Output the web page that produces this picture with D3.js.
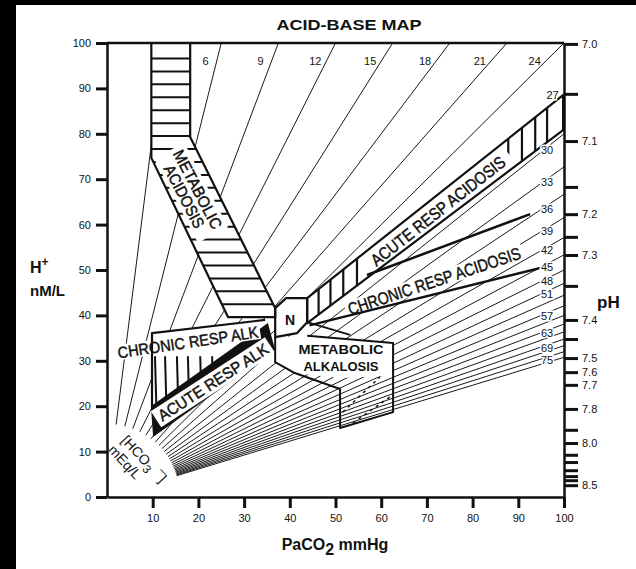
<!DOCTYPE html>
<html>
<head>
<meta charset="utf-8">
<script src="https://cdn.jsdelivr.net/npm/d3@7"></script>
<style>
body { margin:0; background:#000; }
text { font-family: Arial, "Liberation Sans", sans-serif; fill:#111; }
.band-label { font-family: Arial, "Liberation Sans", sans-serif; stroke:#111; stroke-width:0.45px; }
</style>
</head>
<body>
<svg id="chart" width="636" height="569"></svg>
<script>
// axis ticks
var xTicks = [10, 20, 30, 40, 50, 60, 70, 80, 90, 100];
var yTicks = [0, 10, 20, 30, 40, 50, 60, 70, 80, 90, 100];

// pH ticks on the right, placed at the H+ value
var phTickH = [99.8, 88.8, 78.4, 68.3, 62.3, 57.3, 53.3, 46.5, 39.0, 34.8, 30.6, 27.5, 24.7, 19.4, 14.8, 11.9, 9.3, 7.7, 5.9, 4.6, 3.7, 2.6];
var phTickText = ["7.0", "", "7.1", "", "7.2", "", "7.3", "", "7.4", "", "7.5", "7.6", "7.7", "7.8", "", "8.0", "", "", "", "", "", "8.5"];

// bicarbonate isopleths (mEq/L)
var hco3Lines = [3, 6, 9, 12, 15, 18, 21, 24, 27, 30, 33, 36, 39, 42, 45, 48, 51, 54, 57, 60, 63, 66, 69, 72, 75, 78];
var topLabels = [6, 9, 12, 15, 18, 21, 24];
var rightLabels = [27, 30, 33, 36, 39, 42, 45, 48, 51, 57, 63, 69, 75];

// regions, [PaCO2, H+]
var metAcidosis = [[9.7,100],[18.2,100],[18.2,79.3],[36.8,41.6],[36.8,39.6],[26.5,39.6],[9.7,74.7]];
var nBox = [[36.8,41.6],[39.2,43.8],[43.8,43.8],[43.8,38.5],[41.6,36.1],[36.8,35.2]];
var acuteRespAcid = [[43.8,43.8],[99.8,88.5],[99.8,80.8],[43.8,38.3]];
var chronicAcidUpper = [[56.9,48.9],[92.6,62.3]];
var chronicAcidLower = [[44.3,37.8],[94.6,50.4]];
var chronicRespAlk = [[9.85,36.1],[34.6,39.0],[35.2,37.9],[9.85,20.0]];
var acuteRespAlk = [[9.6,20.0],[35.2,38.3],[36.8,32.4],[10.1,13.2]];
var metAlkTop = [[36.8,35.2],[36.8,29.7],[41.1,27.3],[51.0,26.2],[62.6,26.7],[62.6,33.9],[43.8,35.5]];
var metAlkOutline = [[43.8,35.5],[62.6,33.9],[62.6,18.7],[51.0,15.2],[51.0,23.8],[41.1,27.3],[36.8,29.7],[36.8,35.2]];
var metAlkDashes = [[[51.6,18.7],[59.7,26.4]], [[53.8,16.3],[61.9,22.0]]];
var nSpur = [[43.8,38.5],[53.2,35.7]];

// hatch positions
var acidHatchP = [46.3, 48.9, 51.7, 54.7, 87.8, 90.8, 93.7, 96.3];
var alkHatchP = [10.5, 12.7, 15.3, 17.7, 20.4, 23.0];

var svg = d3.select("#chart");

svg.append("rect")
  .attr("x", 16).attr("y", 5)
  .attr("width", 620).attr("height", 564)
  .attr("fill", "white");

var x = d3.scaleLinear().domain([0, 100]).range([107, 564]),
    y = d3.scaleLinear().domain([0, 100]).range([497, 43]);

var line = d3.line()
  .x(function(d){ return x(d[0]); })
  .y(function(d){ return y(d[1]); });

var plot = svg.append("g").attr("class", "plot");

// isopleths
var r0 = 73;
hco3Lines.forEach(function(v){
  var k = 24 / v;
  var pEnd = k > 1 ? 100 / k : 100,
      hEnd = k > 1 ? 100 : 100 * k;
  var dx = x(pEnd) - x(0), dy = y(hEnd) - y(0);
  var len = Math.sqrt(dx*dx + dy*dy);
  plot.append("line")
    .attr("class", "iso")
    .attr("x1", x(0) + dx*r0/len)
    .attr("y1", y(0) + dy*r0/len)
    .attr("x2", x(pEnd))
    .attr("y2", y(hEnd))
    .attr("stroke", "#1a1a1a")
    .attr("stroke-width", 1);
});

// isopleth labels
plot.selectAll(".top-lab")
  .data(topLabels)
  .enter()
  .append("text")
  .attr("class", "top-lab")
  .attr("x", function(d){ return x(96 * d / 24) - 11; })
  .attr("y", y(96) + 4)
  .attr("text-anchor", "middle")
  .attr("font-size", "11px")
  .text(function(d){ return d; });

function clipTo(id, pts){
  svg.append("clipPath").attr("id", id)
    .append("path").attr("d", line(pts) + "Z");
  return "url(#" + id + ")";
}

// metabolic acidosis band
plot.append("path")
  .attr("d", line(metAcidosis) + "Z")
  .attr("fill", "white");
var gHatch = plot.append("g").attr("clip-path", clipTo("clipMA", metAcidosis));
d3.range(96.6, 40, -2.85).forEach(function(h){
  gHatch.append("line")
    .attr("x1", x(5)).attr("x2", x(40))
    .attr("y1", y(h)).attr("y2", y(h))
    .attr("stroke", "#111").attr("stroke-width", 2);
});

// chronic resp alk
plot.append("path")
  .attr("d", line(chronicRespAlk) + "Z")
  .attr("fill", "white");
var gAlk = plot.append("g").attr("clip-path", clipTo("clipCRA", chronicRespAlk));
alkHatchP.forEach(function(p){
  gAlk.append("line")
    .attr("x1", x(p)).attr("x2", x(p) + 2)
    .attr("y1", y(31)).attr("y2", y(15))
    .attr("stroke", "#111").attr("stroke-width", 2);
});

// acute resp alk (black band)
plot.append("path")
  .attr("d", line(acuteRespAlk) + "Z")
  .attr("fill", "#111");

// acute resp acidosis
plot.append("path")
  .attr("d", line(acuteRespAcid) + "Z")
  .attr("fill", "white");
var gAc = plot.append("g").attr("clip-path", clipTo("clipARA", acuteRespAcid));
acidHatchP.forEach(function(p){
  gAc.append("line")
    .attr("x1", x(p)).attr("x2", x(p))
    .attr("y1", y(100)).attr("y2", y(30))
    .attr("stroke", "#111").attr("stroke-width", 2.2);
});

// N and metabolic alkalosis
plot.append("path")
  .attr("d", line(metAlkTop) + "Z")
  .attr("fill", "white");
plot.append("path")
  .attr("d", line(nBox) + "Z")
  .attr("fill", "white");

// label boxes
function bandLabel(cx, cy, angle, w, h, lines, size, lens){
  var g = plot.append("g")
    .attr("transform", "translate(" + x(cx) + "," + y(cy) + ") rotate(" + angle + ")");
  g.append("rect")
    .attr("x", -w/2).attr("y", -h/2)
    .attr("width", w).attr("height", h)
    .attr("fill", "white");
  lines.forEach(function(t, i){
    g.append("text")
      .attr("class", "band-label")
      .attr("x", 0)
      .attr("y", (i - (lines.length - 1)/2) * (size * 0.95) + size * 0.36)
      .attr("text-anchor", "middle")
      .attr("font-size", size + "px")
      .attr("textLength", lens[i])
      .attr("lengthAdjust", "spacingAndGlyphs")
      .text(t);
  });
}

// outlines
function outline(pts, closed, w){
  plot.append("path")
    .attr("d", line(pts) + (closed ? "Z" : ""))
    .attr("fill", "none")
    .attr("stroke", "#111")
    .attr("stroke-width", w)
    .attr("stroke-linejoin", "round");
}

bandLabel(18.4, 67.0, 62.5, 95, 34, ["METABOLIC", "ACIDOSIS"], 16, [87, 69]);
bandLabel(72.4, 63.0, -38.2, 182, 24, ["ACUTE RESP ACIDOSIS"], 17, [166]);
bandLabel(71.6, 47.6, -18.3, 186, 16, ["CHRONIC RESP ACIDOSIS"], 17, [181]);
bandLabel(17.7, 34.1, -8.5, 146, 15, ["CHRONIC RESP ALK"], 16, [142]);
bandLabel(23.2, 25.3, -33, 136, 19, ["ACUTE RESP ALK"], 16, [128]);

outline(metAcidosis, true, 2.2);
outline(acuteRespAcid, true, 2.2);
outline(chronicAcidUpper, false, 2.5);
outline(chronicAcidLower, false, 2.5);
outline([chronicRespAlk[3], chronicRespAlk[0], chronicRespAlk[1]], false, 2.2);
outline(nBox, true, 2.2);
outline(metAlkOutline, false, 2);
outline(nSpur, false, 1.8);
metAlkDashes.forEach(function(s){
  plot.append("path")
    .attr("d", line(s))
    .attr("stroke", "#111").attr("stroke-width", 1.5)
    .attr("stroke-dasharray", "3,4");
});

// right isopleth labels with a white halo
plot.selectAll(".right-lab")
  .data(rightLabels)
  .enter()
  .append("text")
  .attr("class", "right-lab")
  .attr("x", function(d){ return d == 27 ? x(97.5) : x(96.3); })
  .attr("y", function(d){
    var k = 24 / d;
    return d == 27 ? y(100 * k) + 6 : y(96.3 * k) + 7;
  })
  .attr("text-anchor", "middle")
  .attr("font-size", "11px")
  .attr("stroke", "white")
  .attr("stroke-width", 3)
  .attr("paint-order", "stroke")
  .text(function(d){ return d; });

plot.append("text")
  .attr("x", 290).attr("y", 325)
  .attr("text-anchor", "middle")
  .attr("font-size", "14px").attr("font-weight", "bold")
  .text("N");

plot.append("text")
  .attr("x", 341).attr("y", 354)
  .attr("text-anchor", "middle")
  .attr("font-size", "12.5px").attr("font-weight", "bold")
  .attr("textLength", 85).attr("lengthAdjust", "spacingAndGlyphs")
  .text("METABOLIC");
plot.append("text")
  .attr("x", 341).attr("y", 371)
  .attr("text-anchor", "middle")
  .attr("font-size", "12.5px").attr("font-weight", "bold")
  .attr("textLength", 75).attr("lengthAdjust", "spacingAndGlyphs")
  .text("ALKALOSIS");

// [HCO3-] mEq/L label
var gHc = plot.append("g").attr("transform", "translate(125,437) rotate(47)");
var t1 = gHc.append("text").attr("x", 0).attr("y", 6).attr("font-size", "14px");
t1.append("tspan").text("[HCO");
t1.append("tspan").attr("dy", 4).attr("font-size", "12px").text("3");
t1.append("tspan").attr("dy", -11).attr("dx", 6).attr("font-size", "12px").text("\u2013");
t1.append("tspan").attr("dy", 7).text("]");
gHc.append("text").attr("x", -2).attr("y", 22).attr("font-size", "14px").text("mEq/L");

// axes
var axes = svg.append("g").attr("class", "axes");

axes.append("g")
  .attr("transform", "translate(0," + y(0) + ")")
  .call(d3.axisBottom(x).tickValues(xTicks).tickSize(11).tickPadding(6).tickSizeOuter(0));

axes.append("g")
  .attr("transform", "translate(" + x(0) + ",0)")
  .call(d3.axisLeft(y).tickValues(yTicks).tickSize(11).tickPadding(5).tickSizeOuter(0));

axes.append("g")
  .attr("transform", "translate(" + x(100) + ",0)")
  .call(d3.axisRight(y).tickValues(phTickH)
    .tickFormat(function(d, i){ return phTickText[i]; })
    .tickSize(14).tickPadding(4).tickSizeOuter(0));

axes.append("line")
  .attr("x1", x(0)).attr("x2", x(100))
  .attr("y1", y(100)).attr("y2", y(100))
  .attr("stroke", "#111").attr("stroke-width", 2.5);

axes.selectAll(".domain").attr("stroke", "#111").attr("stroke-width", 2.5);
axes.selectAll(".tick line").attr("stroke", "#111").attr("stroke-width", 3);
axes.selectAll(".tick text")
  .attr("font-size", "11px")
  .attr("fill", "#222")
  .style("font-family", "Arial, 'Liberation Sans', sans-serif");

// titles
svg.append("text")
  .attr("x", 349).attr("y", 30)
  .attr("text-anchor", "middle")
  .attr("font-size", "14px").attr("font-weight", "bold")
  .attr("textLength", 145).attr("lengthAdjust", "spacingAndGlyphs")
  .text("ACID-BASE MAP");

var xt = svg.append("text")
  .attr("x", 335).attr("y", 550)
  .attr("text-anchor", "middle")
  .attr("font-size", "16px").attr("font-weight", "bold");
xt.append("tspan").text("PaCO");
xt.append("tspan").attr("dy", 5).text("2");
xt.append("tspan").attr("dy", -5).text(" mmHg");

var yt = svg.append("text")
  .attr("x", 30).attr("y", 273)
  .attr("font-size", "16px").attr("font-weight", "bold");
yt.append("tspan").text("H");
yt.append("tspan").attr("dy", -7).attr("font-size", "12px").text("+");
svg.append("text")
  .attr("x", 30).attr("y", 296)
  .attr("font-size", "15px").attr("font-weight", "bold")
  .text("nM/L");

svg.append("text")
  .attr("x", 597).attr("y", 308)
  .attr("font-size", "17px").attr("font-weight", "bold")
  .text("pH");
</script>
</body>
</html>
